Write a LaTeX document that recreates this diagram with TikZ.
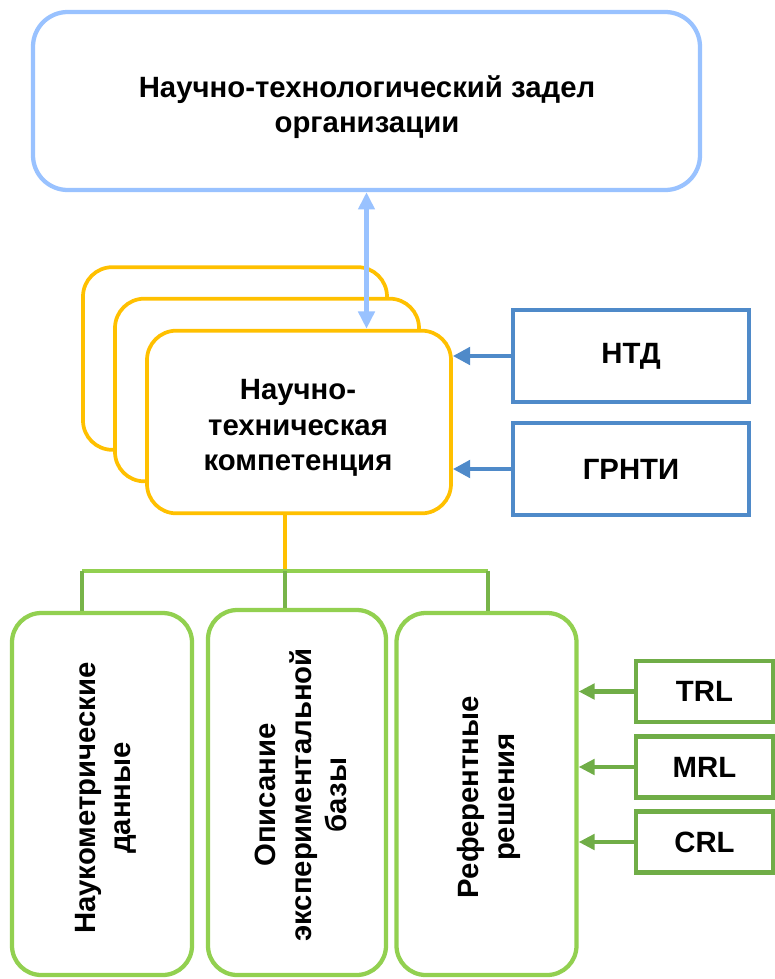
\documentclass[tikz,border=0pt]{standalone}
\usepackage{fontspec}
\setmainfont{Liberation Sans}
\usetikzlibrary{arrows.meta}
\definecolor{topblue}{HTML}{99C2FF}
\definecolor{midblue}{HTML}{4F8AC9}
\definecolor{gold}{HTML}{FFC000}
\definecolor{lgreen}{HTML}{92D050}
\definecolor{dgreen}{HTML}{70AD47}
\begin{document}
\begin{tikzpicture}[x=0.75pt,y=-0.75pt,
 every node/.style={font=\fontsize{22}{26.5}\selectfont\bfseries, align=center, inner sep=0pt},
 topbox/.style={draw=topblue, line width=3.2pt, rounded corners=26pt, minimum width=500.25pt, minimum height=133.5pt},
 compbox/.style={draw=gold, fill=white, line width=2.8pt, rounded corners=22pt, minimum width=228pt, minimum height=137pt},
 srcbox/.style={draw=midblue, line width=3.2pt, minimum width=177pt, minimum height=69pt},
 partbox/.style={draw=lgreen, line width=3.2pt, rounded corners=22pt, minimum width=135pt, minimum height=271.5pt},
 lvlbox/.style={draw=dgreen, line width=3.2pt, minimum width=102.75pt, minimum height=45.75pt},
 vtext/.style={rotate=90},
 blueline/.style={draw=topblue, line width=3.4pt},
 srcarrow/.style={draw=midblue, line width=3.2pt, -{Triangle[length=13pt,width=13pt]}},
 lvlarrow/.style={draw=dgreen, line width=3.2pt, -{Triangle[length=12pt,width=11.5pt]}},
]
\useasboundingbox (0,0) rectangle (775,979);

\node[topbox] (top) at (366.5,101) {};
\node (toptext) at (367,107) {Научно-технологический задел\\организации};

\node[compbox] (back) at (235,358.5) {};
\node[compbox] (mid) at (267,390) {};
\node[compbox] (comp) at (299,422) {};
\node (comptext) at (298,428) {Научно-\\техническая\\компетенция};

\draw[blueline, {Triangle[length=13pt,width=12pt]}-{Triangle[length=13pt,width=12pt]}] (top.south) -- (top.south |- comp.north);

\node[srcbox] (ntd) at (631,356) {НТД};
\node[srcbox] (grnti) at (631,469) {ГРНТИ};
\draw[srcarrow] (ntd.west) -- (ntd.west -| comp.east);
\draw[srcarrow] (grnti.west) -- (grnti.west -| comp.east);

\node[partbox] (p1) at (102,794) {};
\node[partbox, minimum height=273.75pt, minimum width=133.5pt] (p2) at (297,792.5) {};
\node[partbox] (p3) at (486.5,794) {};
\node[vtext] (p1text) at (106,798) {Наукометрические\\данные};
\node[vtext] (p2text) at (301,795) {Описание\\экспериментальной\\базы};
\node[vtext] (p3text) at (489,797) {Референтные\\решения};

\coordinate (b1) at (82,571);
\coordinate (b2) at (285,571);
\coordinate (b3) at (488,571);
\draw[draw=gold, line width=2.6pt] (b2 |- comp.south) -- (b2);
\draw[draw=lgreen, line width=2.8pt] (b1) -- (b3);
\draw[draw=dgreen!80!lgreen, line width=2.6pt] (b1) -- (b1 |- p1.north);
\draw[draw=dgreen!80!lgreen, line width=2.6pt] (b2) -- (b2 |- p2.north);
\draw[draw=dgreen!80!lgreen, line width=2.6pt] (b3) -- (b3 |- p3.north);

\node[lvlbox] (trl) at (704.5,691.5) {TRL};
\node[lvlbox] (mrl) at (704.5,767) {MRL};
\node[lvlbox] (crl) at (704.5,842) {CRL};
\draw[lvlarrow] (trl.west) -- (trl.west -| p3.east);
\draw[lvlarrow] (mrl.west) -- (mrl.west -| p3.east);
\draw[lvlarrow] (crl.west) -- (crl.west -| p3.east);
\end{tikzpicture}
\end{document}
